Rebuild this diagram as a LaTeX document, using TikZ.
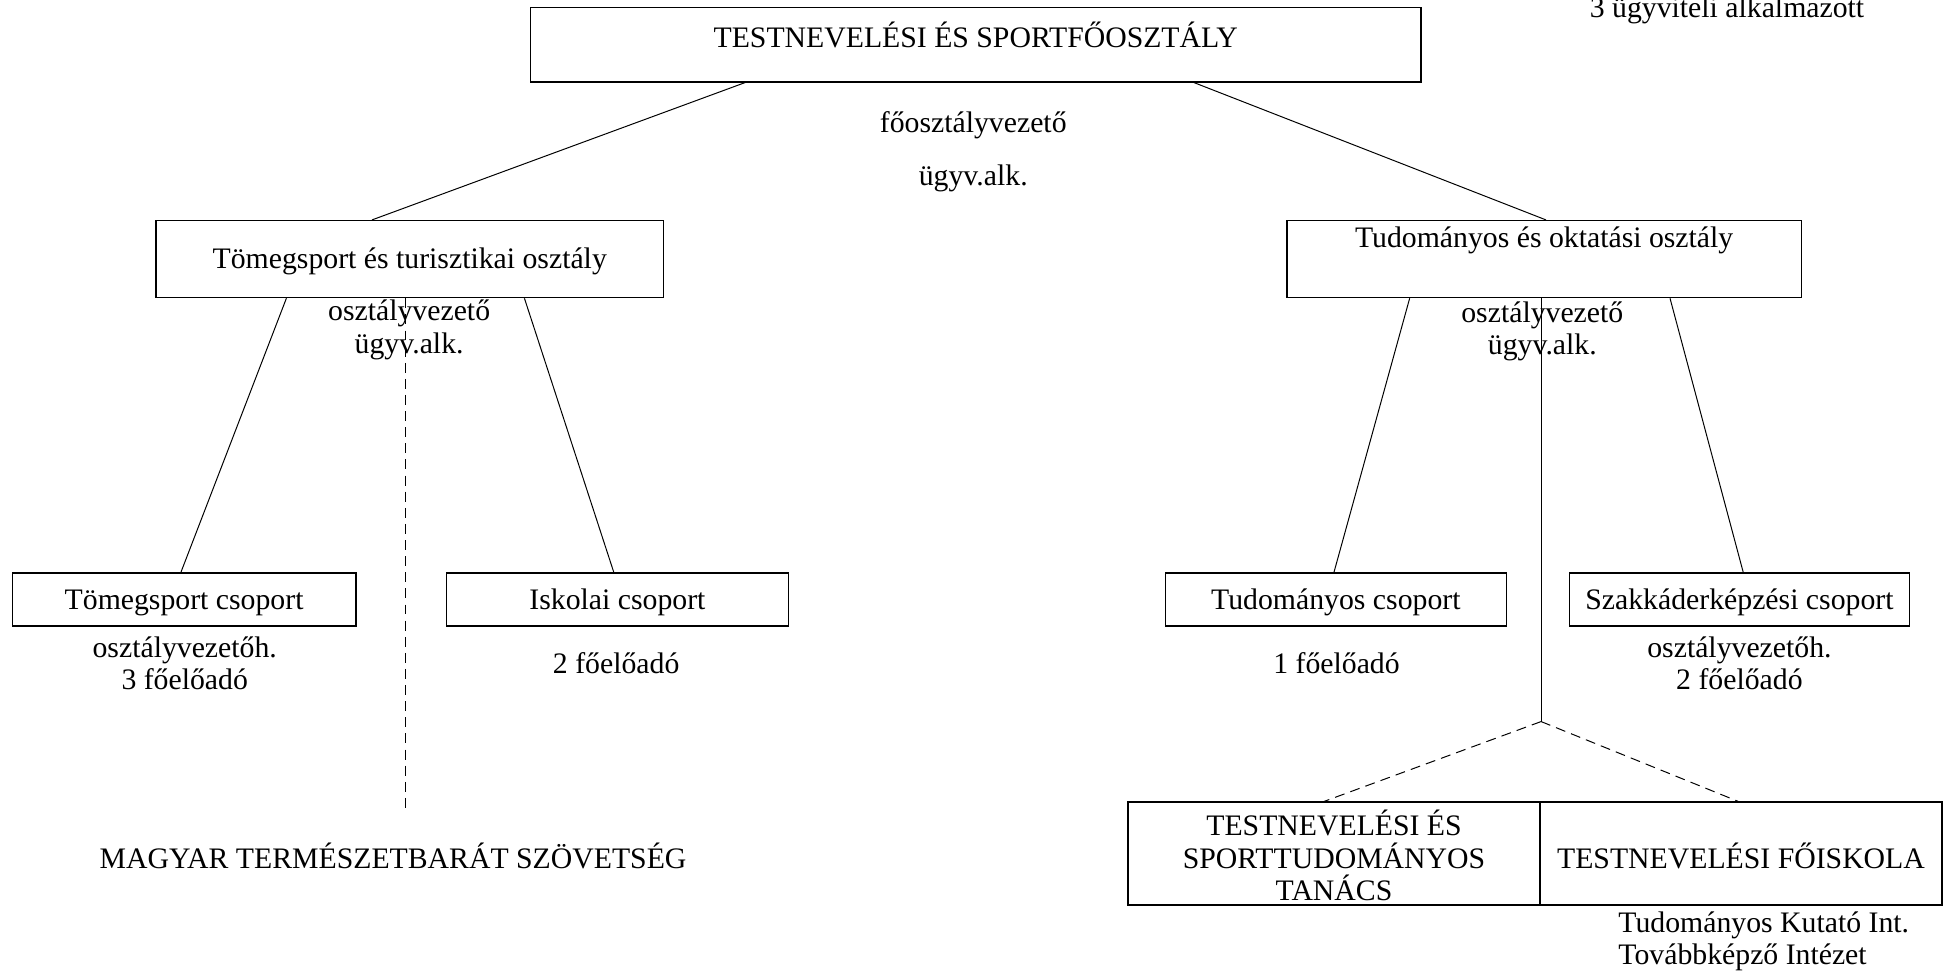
\documentclass[tikz,border=0pt]{standalone}
\usepackage{fontspec}
\setmainfont{Liberation Serif}
\begin{document}
\begin{tikzpicture}[x=0.5pt,y=-0.5pt,
  box/.style={draw,line width=0.6pt,rectangle,inner sep=0pt},
  txt/.style={inner sep=0pt,align=center,font=\fontsize{12}{13}\selectfont},
  link/.style={line width=0.4pt},
  dlink/.style={line width=0.4pt,dash pattern=on 4pt off 2.5pt}]
\useasboundingbox (0,0) rectangle (1568,786);
% boxes
\node[box,minimum width=359pt,minimum height=30pt] (top) at (787,36) {};
\node[box,minimum width=204.5pt,minimum height=31pt] (leftbox) at (330.5,209) {};
\node[box,minimum width=207.5pt,minimum height=31pt] (rightbox) at (1245.5,209) {};
\node[box,minimum width=138.5pt,minimum height=21.5pt] (tcs) at (148.5,483.5) {};
\node[box,minimum width=138pt,minimum height=21.5pt] (isk) at (498,483.5) {};
\node[box,minimum width=137.5pt,minimum height=21.5pt] (tud) at (1077.5,483.5) {};
\node[box,minimum width=137pt,minimum height=21.5pt] (szak) at (1403,483.5) {};
\node[box,minimum width=166pt,minimum height=41.5pt] (tanacs) at (1076,688.5) {};
\node[box,minimum width=162.25pt,minimum height=41.5pt] (foisk) at (1404.25,688.5) {};
% box texts
\node[txt] (ttop) at (787,28) {TESTNEVELÉSI ÉS SPORTFŐOSZTÁLY};
\node[txt] (tleft) at (330.5,211) {Tömegsport és turisztikai osztály};
\node[txt] (tright) at (1245.5,194) {Tudományos és oktatási osztály};
\node[txt] (ttcs) at (148.5,486) {Tömegsport csoport};
\node[txt] (tisk) at (498,486) {Iskolai csoport};
\node[txt] (ttud) at (1077.5,486) {Tudományos csoport};
\node[txt] (tszak) at (1403,486) {Szakkáderképzési csoport};
\node[txt] (ttanacs) at (1076,690) {TESTNEVELÉSI ÉS\\SPORTTUDOMÁNYOS\\TANÁCS};
\node[txt] (tfoisk) at (1404.25,690) {TESTNEVELÉSI FŐISKOLA};
% free texts
\node[txt,anchor=base east] (ugyv3) at (1504,14.5) {3 ügyviteli alkalmazott};
\node[txt] (fov) at (785,101) {főosztályvezető};
\node[txt] (fugyv) at (785,144) {ügyv.alk.};
\node[txt] (lov) at (330,266) {osztályvezető\\ügyv.alk.};
\node[txt] (rov) at (1244,267) {osztályvezető\\ügyv.alk.};
\node[txt] (tcsl) at (149,535) {osztályvezetőh.\\3 főelőadó};
\node[txt] (iskl) at (497,535) {2 főelőadó};
\node[txt] (tudl) at (1078,535) {1 főelőadó};
\node[txt] (szakl) at (1403,535) {osztályvezetőh.\\2 főelőadó};
\node[txt] (mts) at (317,690) {MAGYAR TERMÉSZETBARÁT SZÖVETSÉG};
\node[txt,align=left,anchor=west] (int) at (1305,759) {Tudományos Kutató Int.\\Továbbképző Intézet};
% connectors
\coordinate (mtsend) at (327,655);
\coordinate (split) at (1243,582);
\draw[link] ([xshift=-93pt]top.south) -- ([xshift=-15.25pt]leftbox.north);
\draw[link] ([xshift=88pt]top.south) -- ([xshift=0.75pt]rightbox.north);
\draw[link] ([xshift=-49.75pt]leftbox.south) -- ([xshift=-1.25pt]tcs.north);
\draw[link] ([xshift=46.25pt]leftbox.south) -- ([xshift=-1.5pt]isk.north);
\draw[dlink] ([xshift=-1.75pt]leftbox.south) -- (mtsend);
\draw[link] ([xshift=-54.25pt]rightbox.south) -- ([xshift=-0.75pt]tud.north);
\draw[link] ([xshift=50.75pt]rightbox.south) -- ([xshift=1.5pt]szak.north);
\draw[link] ([xshift=-1.25pt]rightbox.south) -- (split);
\draw[dlink] (split) -- ([xshift=-4pt]tanacs.north);
\draw[dlink] (split) -- ([xshift=-1.125pt]foisk.north);
\end{tikzpicture}
\end{document}
